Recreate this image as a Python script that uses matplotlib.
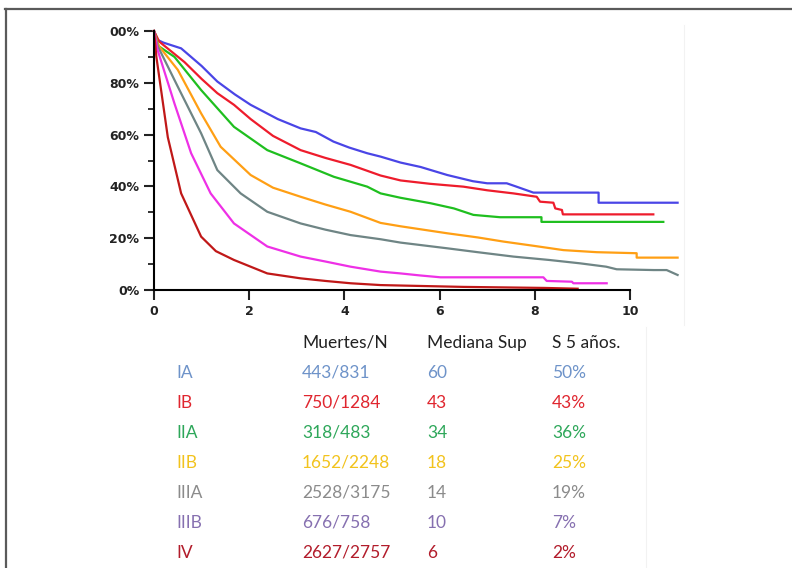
import matplotlib
matplotlib.use("Agg")
import matplotlib.pyplot as plt
from matplotlib.lines import Line2D
from matplotlib.ticker import MultipleLocator

# survival curves (years, % alive)
ia_t = [0, 0.08, 0.2, 0.57, 1.0, 1.33, 1.7, 2.03, 2.6, 3.08, 3.4, 3.77, 4.1, 4.48, 4.76, 5.18, 5.6, 6.16, 6.7, 7.0, 7.41, 7.6, 7.97, 9.34, 9.34, 11.0]
ia_s = [100, 96.5, 95.5, 93.3, 86.5, 80.5, 75.5, 71.5, 66, 62.4, 61, 57.3, 55, 52.8, 51.5, 49.2, 47.5, 44.4, 42, 41.2, 41.2, 40, 37.6, 37.6, 33.7, 33.7]

ib_t = [0, 0.08, 0.11, 0.64, 1.0, 1.33, 1.68, 2.03, 2.5, 3.08, 3.6, 4.13, 4.76, 5.18, 5.8, 6.5, 7.0, 7.55, 8.04, 8.11, 8.39, 8.43, 8.57, 8.59, 10.49]
ib_s = [100, 97, 95.9, 88, 81.5, 76, 71.5, 66, 59.5, 54, 51, 48.3, 44.2, 42.3, 41, 39.9, 38.5, 37.3, 36, 34.1, 33.7, 31.5, 30.9, 29.2, 29.2]

iia_t = [0, 0.08, 0.11, 0.43, 0.99, 1.68, 2.38, 3.08, 3.78, 4.48, 4.76, 5.18, 5.81, 6.3, 6.71, 7.27, 8.14, 8.14, 10.7]
iia_s = [100, 95, 94, 90, 77.2, 63, 54, 48.9, 43.7, 39.9, 37.3, 35.6, 33.5, 31.5, 29, 28.1, 28.1, 26.3, 26.3]

iib_t = [0, 0.08, 0.11, 0.5, 0.99, 1.4, 2.03, 2.5, 3.08, 3.6, 4.13, 4.76, 5.18, 6.16, 6.8, 7.34, 8.0, 8.6, 9.3, 10.14, 10.14, 11.0]
iib_s = [100, 95, 94, 85, 68.2, 55.3, 44.4, 39.5, 36, 33, 30.2, 25.9, 24.6, 21.9, 20.3, 18.7, 17, 15.4, 14.6, 14.2, 12.5, 12.5]

iiia_t = [0, 0.08, 0.11, 0.5, 0.99, 1.33, 1.82, 2.38, 3.08, 3.6, 4.13, 4.76, 5.18, 6.16, 6.8, 7.55, 8.3, 8.95, 9.5, 9.72, 10.5, 10.77, 11.0]
iiia_s = [100, 94, 93, 78.5, 60.5, 46.3, 37.3, 30.2, 25.7, 23.3, 21.2, 19.6, 18.3, 16.1, 14.6, 12.9, 11.6, 10.3, 9.0, 8.0, 7.7, 7.7, 5.8]

iiib_t = [0, 0.07, 0.43, 0.78, 1.19, 1.68, 2.38, 3.08, 3.6, 4.13, 4.76, 5.18, 5.6, 6.02, 8.18, 8.25, 8.78, 8.81, 9.51]
iiib_s = [100, 93, 72, 52.8, 37.3, 25.7, 16.8, 12.9, 11, 9, 7.1, 6.4, 5.6, 4.9, 4.9, 3.5, 3.2, 2.6, 2.6]

iv_t = [0, 0.05, 0.29, 0.57, 0.99, 1.3, 1.68, 2.38, 3.08, 3.6, 4.13, 4.76, 5.24, 6.5, 8.2, 8.9]
iv_s = [100, 90, 59, 37.3, 20.6, 15, 11.6, 6.4, 4.5, 3.5, 2.6, 1.9, 1.7, 1.2, 0.8, 0.5]

line_colors = ["#4a45e6", "#ee1c2c", "#1fbf1f", "#ff9f14", "#6f8585", "#ee30e6", "#c01818"]

# table below the plot
stages = ["IA", "IB", "IIA", "IIB", "IIIA", "IIIB", "IV"]
muertes = ["443/831", "750/1284", "318/483", "1652/2248", "2528/3175", "676/758", "2627/2757"]
mediana = ["60", "43", "34", "18", "14", "10", "6"]
s5 = ["50%", "43%", "36%", "25%", "19%", "7%", "2%"]
headers = ["Muertes/N", "Mediana Sup", "S 5 años."]
text_colors = ["#6e93c9", "#e0262f", "#2ea75a", "#f2c31d", "#8b8b8b", "#8670b0", "#b21c2b"]

yticks = [0, 20, 40, 60, 80, 100]
ytick_labels = ["0%", "20%", "40%", "60%", "80%", "00%"]
xticks = [0, 2, 4, 6, 8, 10]

W, H = 792, 568
fig = plt.figure(figsize=(W / 100, H / 100), dpi=100)
ax = fig.add_axes([154 / W, 1 - 290 / H, (630 - 154) / W, (290 - 31) / H])

curves = [(ia_t, ia_s), (ib_t, ib_s), (iia_t, iia_s), (iib_t, iib_s),
          (iiia_t, iiia_s), (iiib_t, iiib_s), (iv_t, iv_s)]
for (t, s), c in zip(curves, line_colors):
    ax.plot(t, s, color=c, lw=1.6, clip_on=False, solid_joinstyle="round")

ax.set_xlim(0, 10)
ax.set_ylim(0, 100)
ax.set_yticks(yticks)
ax.set_yticklabels(ytick_labels)
ax.yaxis.set_minor_locator(MultipleLocator(10))
ax.set_xticks(xticks)
for sp in ["top", "right"]:
    ax.spines[sp].set_visible(False)
for sp in ["left", "bottom"]:
    ax.spines[sp].set_linewidth(1.5)
ax.tick_params(which="major", length=7, width=1.5, pad=3.5, colors="#222222")
ax.tick_params(which="minor", length=4, width=1.3, colors="#222222")
for lab in ax.get_xticklabels() + ax.get_yticklabels():
    lab.set_fontweight("bold")
    lab.set_fontsize(9)

# table text
fs = 12.5
cols_x = [302, 427, 552]
for x, h in zip(cols_x, headers):
    fig.text(x / W, 1 - 343 / H, h, fontsize=fs, family="Lato", color="#222222", va="center")
for i, st in enumerate(stages):
    y = 1 - (373 + 30 * i) / H
    c = text_colors[i]
    fig.text(176 / W, y, st, fontsize=fs, family="Lato", color=c, va="center")
    for x, v in zip(cols_x, [muertes[i], mediana[i], s5[i]]):
        fig.text(x / W, y, v, fontsize=fs, family="Lato", color=c, va="center")

# slide frame
fig.add_artist(Line2D([5 / W, 1], [1 - 8.5 / H, 1 - 8.5 / H], color="#5a5a5a", lw=1.6))
fig.add_artist(Line2D([6 / W, 6 / W], [0, 1 - 8.5 / H], color="#5a5a5a", lw=1.6))
fig.add_artist(Line2D([684 / W, 684 / W], [1 - 325 / H, 1 - 25 / H], color="#f2f2f2", lw=0.8))
fig.add_artist(Line2D([646 / W, 646 / W], [0, 1 - 327 / H], color="#f2f2f2", lw=0.8))

fig.savefig("out.png", dpi=100)
